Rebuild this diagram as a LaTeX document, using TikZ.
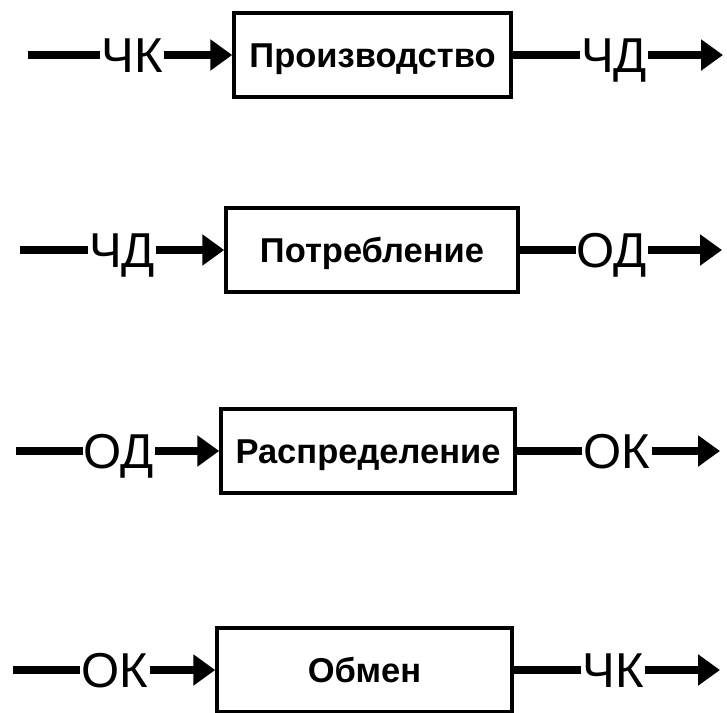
\documentclass[tikz,border=0pt]{standalone}
\usepackage{fontspec}
\setmainfont{Liberation Sans}
\usetikzlibrary{arrows.meta}
\tikzset{
  stage/.style={draw, line width=3.5pt, inner sep=0pt, font=\bfseries\fontsize{34.5}{38}\selectfont,
                text height=24pt, text depth=0pt, minimum height=84pt},
  flowlabel/.style={inner sep=1pt, font=\fontsize{49}{54}\selectfont, text height=35pt, text depth=0pt},
  flow/.style={line width=7.5pt},
  flowarrow/.style={line width=7.5pt, -{Triangle[length=22pt,width=30pt]}}
}
\begin{document}
\begin{tikzpicture}[x=1pt,y=1pt]
\useasboundingbox (0,0) rectangle (727,-712);

% Row 1: production
\coordinate (s1) at (28,-55);
\coordinate (e1) at (723,-55);
\node[flowlabel] (a1) at (132,-55) {ЧК};
\node[stage, minimum width=277pt] (p1) at (372.5,-55) {Производство};
\node[flowlabel] (b1) at (614,-55) {ЧД};
\draw[flow] (s1) -- (a1.west |- s1);
\draw[flowarrow] (a1.east |- s1) -- (p1.west);
\draw[flow] (p1.east) -- (b1.west |- s1);
\draw[flowarrow] (b1.east |- s1) -- (e1);

% Row 2: consumption
\coordinate (s2) at (20,-250);
\coordinate (e2) at (722,-250);
\node[flowlabel] (a2) at (122,-250) {ЧД};
\node[stage, minimum width=292pt] (p2) at (372,-250) {Потребление};
\node[flowlabel] (b2) at (612,-250) {ОД};
\draw[flow] (s2) -- (a2.west |- s2);
\draw[flowarrow] (a2.east |- s2) -- (p2.west);
\draw[flow] (p2.east) -- (b2.west |- s2);
\draw[flowarrow] (b2.east |- s2) -- (e2);

% Row 3: distribution
\coordinate (s3) at (16,-451);
\coordinate (e3) at (720,-451);
\node[flowlabel] (a3) at (119,-451) {ОД};
\node[stage, minimum width=294pt] (p3) at (368,-451) {Распределение};
\node[flowlabel] (b3) at (617,-451) {ОК};
\draw[flow] (s3) -- (a3.west |- s3);
\draw[flowarrow] (a3.east |- s3) -- (p3.west);
\draw[flow] (p3.east) -- (b3.west |- s3);
\draw[flowarrow] (b3.east |- s3) -- (e3);

% Row 4: exchange
\coordinate (s4) at (13,-670);
\coordinate (e4) at (720,-670);
\node[flowlabel] (a4) at (115,-670) {ОК};
\node[stage, minimum width=295pt] (p4) at (364.5,-670) {Обмен};
\node[flowlabel] (b4) at (613,-670) {ЧК};
\draw[flow] (s4) -- (a4.west |- s4);
\draw[flowarrow] (a4.east |- s4) -- (p4.west);
\draw[flow] (p4.east) -- (b4.west |- s4);
\draw[flowarrow] (b4.east |- s4) -- (e4);
\end{tikzpicture}
\end{document}
